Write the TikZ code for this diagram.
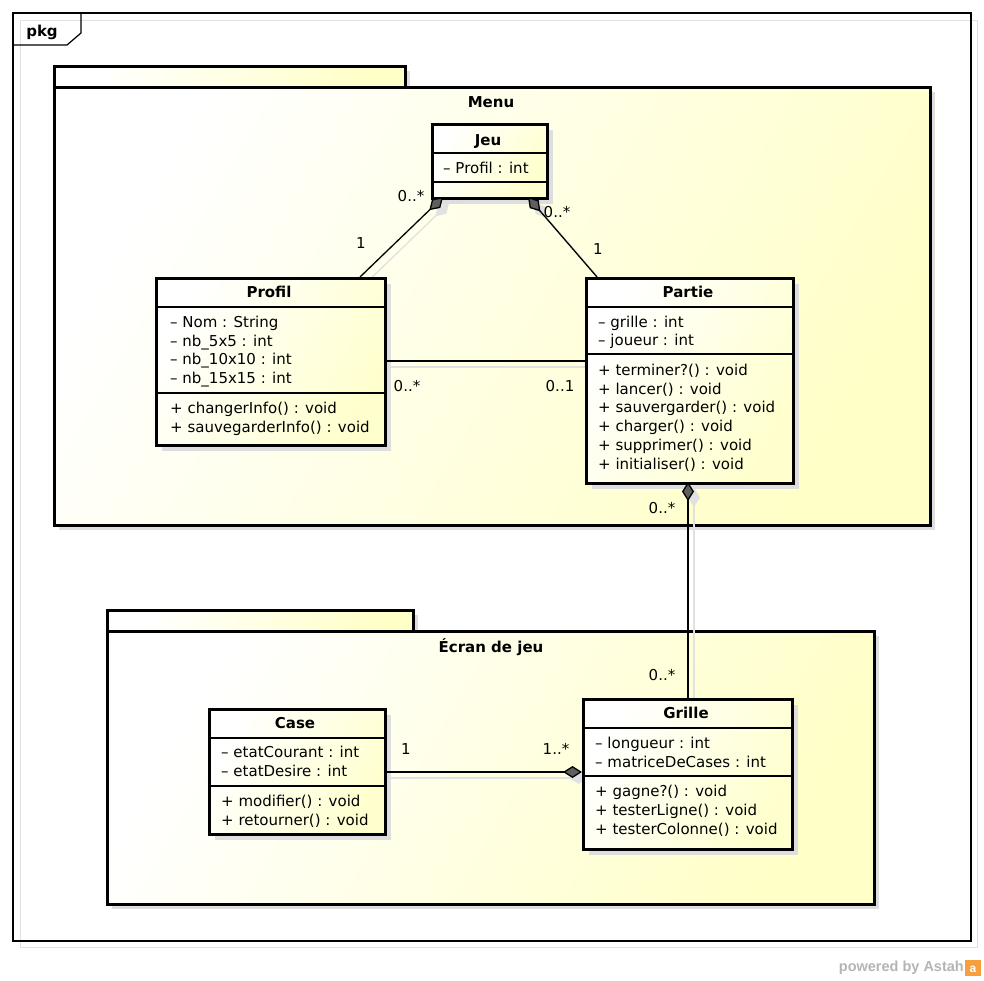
\documentclass[tikz,border=0pt]{standalone}
\usepackage{fontspec}
\setmainfont{DejaVu Sans}
\newfontfamily\brandfont{Liberation Sans}
\usetikzlibrary{arrows.meta,shadows}
\definecolor{pkgyellow}{RGB}{255,255,200}
\definecolor{clsyellow}{RGB}{255,255,205}
\definecolor{shadowgray}{RGB}{222,222,222}
\definecolor{lineshadow}{RGB}{225,225,225}
\definecolor{diagray}{RGB}{95,95,95}
\definecolor{brandgray}{RGB}{180,180,180}
\definecolor{brandorange}{RGB}{245,160,60}
\tikzset{
  yellowshade/.style={left color=white,right color=#1,shading angle=60},
  pkgbox/.style={draw,line width=2.8pt,rectangle,inner sep=0pt,anchor=north west,yellowshade=pkgyellow},
  pkgshadow/.style={fill=shadowgray},
  classbox/.style={draw,line width=2.8pt,rectangle,inner sep=0pt,anchor=north west,yellowshade=clsyellow,
    drop shadow={shadow xshift=6pt,shadow yshift=-6pt,fill=shadowgray,opacity=1}},
  sepline/.style={line width=1.2pt},
  ctitle/.style={font=\fontsize{15}{18}\selectfont\bfseries,anchor=base,inner sep=0pt},
  member/.style={anchor=base west,inner sep=0pt},
  mult/.style={anchor=center,inner sep=0pt},
  assoc/.style={line width=1.3pt},
  assocshadow/.style={line width=1.3pt,draw=lineshadow},
  comp/.style={{Diamond[length=19pt,width=12pt,fill=diagray]}-},
  compshadow/.style={{Diamond[length=19pt,width=12pt,fill=lineshadow]}-},
}
\begin{document}
\begin{tikzpicture}[x=1pt,y=-1pt,font=\fontsize{15}{18}\selectfont]
\useasboundingbox (0,0) rectangle (984,980);

% outer package frame
\draw[lineshadow,line width=1pt] (20,20) rectangle (977,947);
\draw[line width=1.2pt] (13,13) rectangle (971,941);
\draw[line width=1.2pt] (13,13) -- (81,13) -- (81,33) -- (67,45) -- (13,45);
\node[anchor=base,inner sep=0pt,font=\fontsize{15}{18}\selectfont\bfseries] (pkglabel) at (42,36) {pkg};

% package Menu
\fill[pkgshadow] (59,71) rectangle (410,92);
\fill[pkgshadow] (59,92) rectangle (935,530);
\node[pkgbox,minimum width=351pt,minimum height=21pt] (menutab) at (53,65) {};
\node[pkgbox,minimum width=876pt,minimum height=438pt] (menu) at (53,86) {};
\node[ctitle] (menulabel) at (491,107) {Menu};

% package Ecran de jeu
\fill[pkgshadow] (112,615) rectangle (418,636);
\fill[pkgshadow] (112,636) rectangle (879,909);
\node[pkgbox,minimum width=306pt,minimum height=21pt] (ecrantab) at (106,609) {};
\node[pkgbox,minimum width=767pt,minimum height=273pt] (ecran) at (106,630) {};
\node[ctitle] (ecranlabel) at (491,652) {Écran de jeu};

% connector end points
\coordinate (jeuL) at (443,197);
\coordinate (jeuR) at (528,197);
\coordinate (profilT) at (360,277);
\coordinate (partieT) at (597,277);
\coordinate (profilR) at (384,361);
\coordinate (partieL) at (585,361);
\coordinate (partieB) at (688,482);
\coordinate (grilleT) at (688,698);
\coordinate (caseR) at (384,772);
\coordinate (grilleL) at (582,772);

% connector shadows
\draw[assocshadow,compshadow] ([shift={(6,6)}]jeuL) -- ([shift={(6,6)}]profilT);
\draw[assocshadow,compshadow] ([shift={(6,6)}]jeuR) -- ([shift={(6,6)}]partieT);
\draw[assocshadow] ([shift={(6,6)}]profilR) -- ([shift={(6,6)}]partieL);
\draw[assocshadow,compshadow] ([shift={(6,6)}]partieB) -- ([shift={(6,6)}]grilleT);
\draw[assocshadow,compshadow] ([shift={(6,6)}]grilleL) -- ([shift={(6,6)}]caseR);

% class Jeu
\node[classbox,minimum width=115pt,minimum height=74pt] (jeu) at (431,123) {};
\draw[sepline] (431,153) -- (546,153);
\draw[sepline] (431,182) -- (546,182);
\node[ctitle] (jeutitle) at (488,145) {Jeu};
\node[member] (jeua1) at (443,173) {– Profil : int};

% class Profil
\node[classbox,minimum width=229pt,minimum height=167pt] (profil) at (155,277) {};
\draw[sepline] (155,307) -- (384,307);
\draw[sepline] (155,393) -- (384,393);
\node[ctitle] (profiltitle) at (269,297) {Profil};
\node[member] (profila1) at (170,327) {– Nom : String};
\node[member] (profila2) at (170,346) {– nb\_5x5 : int};
\node[member] (profila3) at (170,364) {– nb\_10x10 : int};
\node[member] (profila4) at (170,383) {– nb\_15x15 : int};
\node[member] (profilo1) at (170,413) {+ changerInfo() : void};
\node[member] (profilo2) at (170,432) {+ sauvegarderInfo() : void};

% class Partie
\node[classbox,minimum width=207pt,minimum height=205pt] (partie) at (585,277) {};
\draw[sepline] (585,307) -- (792,307);
\draw[sepline] (585,354) -- (792,354);
\node[ctitle] (partietitle) at (688,297) {Partie};
\node[member] (partiea1) at (598,327) {– grille : int};
\node[member] (partiea2) at (598,345) {– joueur : int};
\node[member] (partieo1) at (598,375) {+ terminer?() : void};
\node[member] (partieo2) at (598,394) {+ lancer() : void};
\node[member] (partieo3) at (598,412) {+ sauvergarder() : void};
\node[member] (partieo4) at (598,431) {+ charger() : void};
\node[member] (partieo5) at (598,450) {+ supprimer() : void};
\node[member] (partieo6) at (598,469) {+ initialiser() : void};

% class Case
\node[classbox,minimum width=176pt,minimum height=125pt] (case) at (208,708) {};
\draw[sepline] (208,738) -- (384,738);
\draw[sepline] (208,786) -- (384,786);
\node[ctitle] (casetitle) at (295,728) {Case};
\node[member] (casea1) at (221,757) {– etatCourant : int};
\node[member] (casea2) at (221,776) {– etatDesire : int};
\node[member] (caseo1) at (221,806) {+ modifier() : void};
\node[member] (caseo2) at (221,825) {+ retourner() : void};

% class Grille
\node[classbox,minimum width=209pt,minimum height=150pt] (grille) at (582,698) {};
\draw[sepline] (582,728) -- (791,728);
\draw[sepline] (582,776) -- (791,776);
\node[ctitle] (grilletitle) at (686,718) {Grille};
\node[member] (grillea1) at (595,748) {– longueur : int};
\node[member] (grillea2) at (595,767) {– matriceDeCases : int};
\node[member] (grilleo1) at (595,796) {+ gagne?() : void};
\node[member] (grilleo2) at (595,815) {+ testerLigne() : void};
\node[member] (grilleo3) at (595,834) {+ testerColonne() : void};

% connectors
\draw[assoc,comp] (jeuL) -- (profilT);
\draw[assoc,comp] (jeuR) -- (partieT);
\draw[assoc] (profilR) -- (partieL);
\draw[assoc,comp] (partieB) -- (grilleT);
\draw[assoc,comp] (grilleL) -- (caseR);

% multiplicities
\node[mult] (m1) at (411,196) {0..*};
\node[mult] (m2) at (361,243) {1};
\node[mult] (m3) at (557,212) {0..*};
\node[mult] (m4) at (598,249) {1};
\node[mult] (m5) at (407,386) {0..*};
\node[mult] (m6) at (560,386) {0..1};
\node[mult] (m7) at (662,508) {0..*};
\node[mult] (m8) at (662,675) {0..*};
\node[mult] (m9) at (406,749) {1};
\node[mult] (m10) at (556,749) {1..*};

% footer
\node[anchor=east,inner sep=0pt,font=\brandfont\fontsize{14.5}{16}\selectfont\bfseries,text=brandgray] (brand) at (964,968) {powered by Astah};
\fill[brandorange] (965,960) rectangle (981,976);
\node[inner sep=0pt,text=white,font=\brandfont\fontsize{12}{12}\selectfont\bfseries] (brandlogo) at (973,969) {a};
\end{tikzpicture}
\end{document}
